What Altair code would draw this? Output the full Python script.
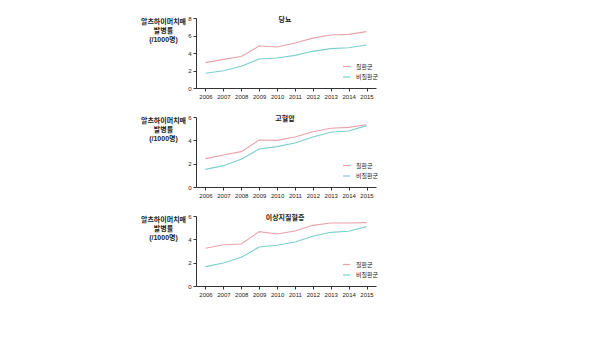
import altair as alt
import pandas as pd

years = list(range(2006, 2016))
groups = ["질환군", "비질환군"]
colors = ["#e9a2aa", "#7ccfcb"]
titles = ["당뇨", "고혈압", "이상지질혈증"]
y_max = [8, 6, 6]

dm_case = [2.9, 3.27, 3.6, 4.8, 4.69, 5.14, 5.7, 6.06, 6.13, 6.44]
dm_ctrl = [1.68, 1.98, 2.48, 3.31, 3.43, 3.73, 4.19, 4.5, 4.6, 4.91]
ht_case = [2.43, 2.74, 3.03, 4.03, 4.0, 4.29, 4.74, 5.03, 5.11, 5.34]
ht_ctrl = [1.51, 1.83, 2.37, 3.26, 3.46, 3.77, 4.29, 4.69, 4.8, 5.26]
dl_case = [3.23, 3.54, 3.6, 4.66, 4.46, 4.71, 5.2, 5.4, 5.4, 5.43]
dl_ctrl = [1.66, 1.97, 2.46, 3.34, 3.49, 3.77, 4.26, 4.6, 4.69, 5.09]

y_title = ["알츠하이머치매", "발병률", "(/1000명)"]
FONT = "Liberation Sans, Noto Sans CJK KR"


def panel(title, case, ctrl, ymax):
    df = pd.DataFrame({
        "year": years * 2,
        "rate": case + ctrl,
        "group": [groups[0]] * len(years) + [groups[1]] * len(years),
    })
    lines = alt.Chart(df).mark_line(strokeWidth=1.1).encode(
        x=alt.X("year:O", scale=alt.Scale(type="point", padding=0.53),
                axis=alt.Axis(title=None, labelAngle=0, labelFontSize=6, tickSize=3,
                              labelPadding=2, domainColor="#333", tickColor="#333",
                              labelColor="#222", labelFont=FONT)),
        y=alt.Y("rate:Q", scale=alt.Scale(domain=[0, ymax], nice=False),
                axis=alt.Axis(values=list(range(0, ymax + 1, 2)), grid=False,
                              labelFontSize=6, tickSize=3, labelPadding=2,
                              domainColor="#333", tickColor="#333", labelColor="#222",
                              labelFont=FONT,
                              title=y_title, titleAngle=0, titleAlign="center",
                              titleBaseline="top", titleX=-33, titleY=-1,
                              titleLineHeight=9, titleFontSize=7,
                              titleFontWeight="bold", titleColor="#222", titleFont=FONT)),
        color=alt.Color("group:N", scale=alt.Scale(domain=groups, range=colors),
                        legend=alt.Legend(title=None, orient="none", legendX=146, legendY=44,
                                          symbolType="stroke", symbolSize=49,
                                          symbolStrokeWidth=1.2, labelFontSize=6,
                                          labelFont=FONT, labelColor="#222",
                                          rowPadding=2.5, labelOffset=5)),
    )
    tdf = pd.DataFrame({"t": [title]})
    ttl = alt.Chart(tdf).mark_text(fontSize=7, fontWeight="bold", font=FONT,
                                   color="#222").encode(
        x=alt.value(89), y=alt.value(1.5), text="t:N")
    return alt.layer(lines, ttl).properties(width=180, height=70)


chart = alt.vconcat(
    panel(titles[0], dm_case, dm_ctrl, y_max[0]),
    panel(titles[1], ht_case, ht_ctrl, y_max[1]),
    panel(titles[2], dl_case, dl_ctrl, y_max[2]),
    spacing=29, bounds="flush",
).resolve_scale(color="independent").properties(
    padding={"left": 140, "top": 15, "right": 5, "bottom": 5},
    background="white",
).configure_view(stroke=None)

chart.save("out.html", embed_options={"renderer": "svg", "actions": False})
